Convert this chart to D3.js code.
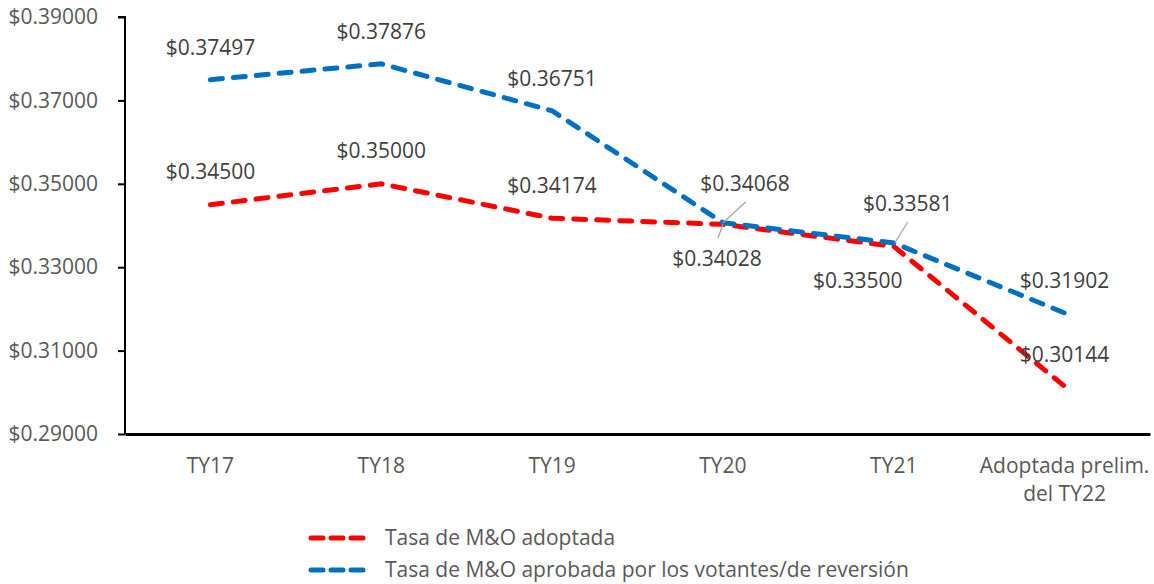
<!DOCTYPE html>
<html><head><meta charset="utf-8">
<script src="https://cdn.jsdelivr.net/npm/d3@7"></script>
<style>body{margin:0;background:#fff}svg{display:block}text{font-family:"Open Sans",sans-serif}</style>
</head><body><svg id="c" width="1154" height="584"></svg>
<script>
const categories = ["TY17","TY18","TY19","TY20","TY21","Adoptada prelim.|del TY22"];
const adoptada = [0.34500,0.35000,0.34174,0.34028,0.33500,0.30144];
const votantes = [0.37497,0.37876,0.36751,0.34068,0.33581,0.31902];
const yTicks = [0.29,0.31,0.33,0.35,0.37,0.39];
const seriesNames = ["Tasa de M&O adoptada","Tasa de M&O aprobada por los votantes/de reversión"];
const colors = ["#ff0000","#0070c0"];

const svg = d3.select("#c");
const L=125, R=1150, T=17, B=434;
const FS="21px";
const x = d3.scaleBand().domain(categories).range([L,R]);
const y = d3.scaleLinear().domain([0.29,0.39]).range([B,T]);
const cx = c => x(c)+x.bandwidth()/2;

// y axis
const ya = svg.append("g").attr("transform",`translate(${L},0)`)
  .call(d3.axisLeft(y).tickValues(yTicks).tickSize(7).tickPadding(20).tickFormat(d=>"$"+d3.format(".5f")(d)));
ya.select(".domain").attr("stroke","#000").attr("stroke-width",2).attr("d",`M-7,${T}H0V${B}`);
ya.selectAll(".tick line").attr("stroke","#000").attr("stroke-width",2);
ya.selectAll(".tick text").attr("fill","#595959").style("font-size",FS);

// x axis
const xa = svg.append("g").attr("transform",`translate(0,${B})`)
  .call(d3.axisBottom(x).tickSize(0).tickPadding(0).tickFormat(""));
xa.select(".domain").attr("stroke","#000").attr("stroke-width",3);
xa.selectAll(".tick").each(function(d){
  const parts=d.split("|");
  const t=d3.select(this).append("text").attr("fill","#595959").style("font-size",FS).attr("text-anchor","middle");
  parts.forEach((p,i)=>t.append("tspan").attr("x",0).attr("y",39+i*28).text(p));
});

// lines
const line = d3.line().x((d,i)=>cx(categories[i])).y(d=>y(d));
[adoptada,votantes].forEach((s,k)=>{
  svg.append("path").datum(s).attr("d",line).attr("fill","none").attr("stroke",colors[k])
    .attr("stroke-width",5).attr("stroke-dasharray","12,11").attr("stroke-linecap","round");
});

// data labels
const fmt = d=>"$"+d3.format(".5f")(d);
const labelOff = {
  0:[[0,-33],[0,-33],[0,-33],[-6,34],[-36,34],[0,-32]],
  1:[[0,-32],[0,-32],[0,-32],[22,-39],[14,-39],[0,-32]]
};
[adoptada,votantes].forEach((s,k)=>{
  s.forEach((v,i)=>{
    const o=labelOff[k][i];
    svg.append("text").attr("x",cx(categories[i])+o[0]).attr("y",y(v)+o[1]).attr("dy","0.35em")
      .attr("text-anchor","middle").attr("fill","#404040").style("font-size",FS).text(fmt(v));
  });
});
// leader lines
const lead = (x1,y1,x2,y2)=>svg.append("path").attr("d",`M${x1},${y1}L${x2},${y2}`).attr("stroke","#a6a6a6").attr("stroke-width",1.3);
lead(cx("TY20")+23,y(votantes[3])-21,cx("TY20"),y(votantes[3]));
lead(cx("TY20")-5,y(adoptada[3])+14,cx("TY20"),y(adoptada[3]));
lead(cx("TY21")+14,y(votantes[4])-21,cx("TY21")+1,y(votantes[4]));

// legend
seriesNames.forEach((n,k)=>{
  const ly=538+k*32;
  svg.append("path").attr("d",`M311,${ly}H363`).attr("stroke",colors[k]).attr("stroke-width",5)
    .attr("stroke-dasharray","12,8").attr("stroke-linecap","round");
  svg.append("text").attr("x",385).attr("y",ly).attr("dy","0.35em").attr("fill","#595959").style("font-size",FS).text(n);
});
</script></body></html>
